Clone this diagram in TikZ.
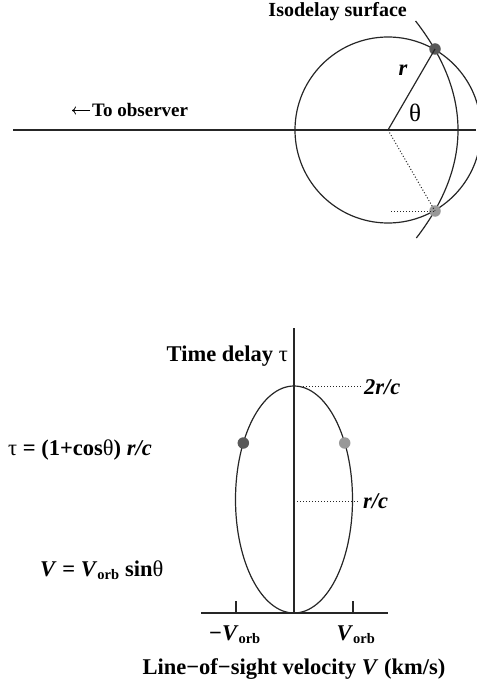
\documentclass[tikz,border=0pt]{standalone}
\usepackage{fontspec}
\usetikzlibrary{arrows.meta}
\setmainfont{Liberation Serif}
\newcommand{\gk}[1]{{\mdseries #1}}
\newcommand{\orbsub}{\textsubscript{\fontsize{14.5}{16}\selectfont orb}}
\begin{document}
\begin{tikzpicture}[x=1pt,y=-1pt,
  curve/.style={line width=1.2pt,black!85},
  axis/.style={line width=1.4pt,black!85},
  dots/.style={line width=1pt,dotted,black!85},
  darkdot/.style={circle,fill=black!65,inner sep=0pt,minimum size=11.5pt},
  lightdot/.style={circle,fill=black!40,inner sep=0pt,minimum size=11.5pt},
  lbl/.style={font=\fontsize{22.5}{25}\selectfont\bfseries,inner sep=0pt},
  ilbl/.style={font=\fontsize{22.5}{25}\selectfont\bfseries\itshape,inner sep=0pt},
  small/.style={font=\fontsize{20}{22}\selectfont\bfseries,inner sep=0pt}]
\useasboundingbox (0,0) rectangle (476,687);
% ---- top panel ----
\coordinate (lineL) at (13,130);
\coordinate (lineR) at (476,130);
\coordinate (O) at (388,130);
\draw[axis] (lineL) -- (lineR);
\draw[curve] (O) circle[radius=93];
\draw[curve] plot[domain=-109:108,samples=60,smooth] ({458-(\x/10)*(\x/10)/2.8},{130+\x});
\node[darkdot] (P1) at (435,49) {};
\node[lightdot] (P2) at (435,211) {};
\draw[curve] (O) -- (P1.center);
\draw[dots] (O) -- (P2.center);
\coordinate (H) at (391,211);
\draw[dots] (H) -- (P2.center);
\node[ilbl] (r) at (403,70) {r};
\node[font=\fontsize{25}{27}\selectfont,inner sep=0pt] (th) at (415,113) {θ};
\node[small,anchor=base east] (iso) at (407,17) {Isodelay surface};
\node[font=\fontsize{19}{21}\selectfont\bfseries,inner sep=0pt,anchor=base west] (obs) at (92,117) {To observer};
\coordinate (arrS) at (90,110.5);
\coordinate (arrE) at (72,110.5);
\draw[line width=0.8pt,-{To[length=4pt,width=8pt]}] (arrS) -- (arrE);
% ---- bottom panel ----
\coordinate (yB) at (294,613);
\coordinate (yT) at (294,328);
\coordinate (xL) at (201,613);
\coordinate (xR) at (388,613);
\draw[axis] (yB) -- (yT);
\draw[axis] (xL) -- (xR);
\coordinate (t1) at (236,613);
\coordinate (t1u) at (236,601);
\coordinate (t2) at (353,613);
\coordinate (t2u) at (353,601);
\draw[axis] (t1) -- (t1u);
\draw[axis] (t2) -- (t2u);
\coordinate (E) at (294,499.5);
\draw[curve] (E) ellipse[x radius=58.5,y radius=113.5];
\node[darkdot] (Q1) at (243.3,443) {};
\node[lightdot] (Q2) at (344.7,443) {};
\coordinate (top) at (294,386);
\coordinate (topR) at (361,386);
\coordinate (mid) at (294,501);
\coordinate (midR) at (358,501);
\draw[dots] (top) -- (topR);
\draw[dots] (mid) -- (midR);
\node[ilbl,anchor=base west] (l2rc) at (364,394) {2r/c};
\node[ilbl,anchor=base west] (lrc) at (363,508) {r/c};
\node[lbl,anchor=base east] (td) at (288,361) {Time delay \gk{τ}};
\node[lbl,anchor=base west] (eq1) at (8,455) {\gk{τ} = (1+cos\gk{θ}) \textit{r/c}};
\node[lbl,anchor=base west] (eq2) at (40,576) {\textit{V} = \textit{V}\orbsub{} sin\gk{θ}};
\node[lbl,anchor=base] (vm) at (235,640) {−\textit{V}\orbsub};
\node[lbl,anchor=base] (vp) at (356,640) {\textit{V}\orbsub};
\node[lbl,anchor=base] (xl) at (294,674) {Line−of−sight velocity \textit{V} (km/s)};
\end{tikzpicture}
\end{document}
